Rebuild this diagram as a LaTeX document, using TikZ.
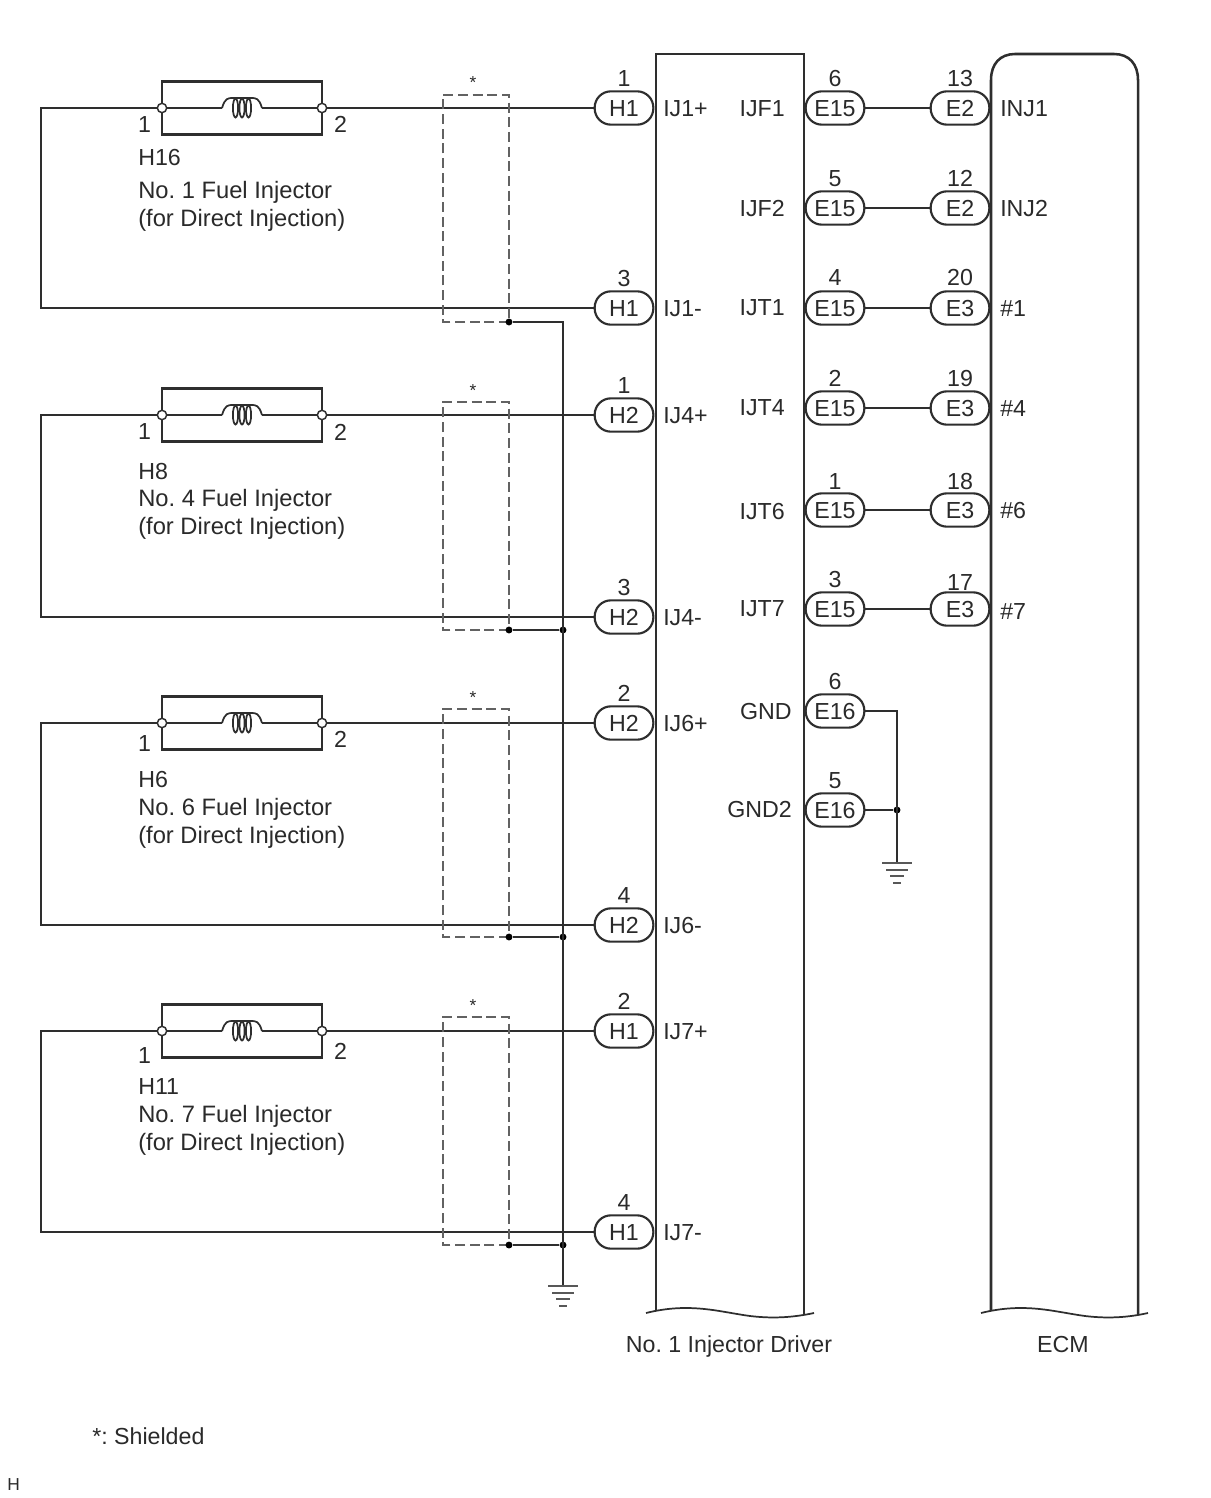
\documentclass[tikz,border=0pt]{standalone}
\usepackage{fontspec}
\setmainfont{Liberation Sans}
\usetikzlibrary{calc}
\definecolor{ink}{HTML}{2E2E2E}
\definecolor{txtc}{HTML}{2A2A2A}
\frenchspacing
\tikzset{
  wire/.style={draw=ink,line width=1.5pt,line join=miter},
  thinw/.style={draw=ink,line width=1.3pt},
  shield/.style={draw=ink!75,line width=1.2pt,dash pattern=on 7.5pt off 3.5pt},
  lab/.style={inner sep=0pt,text=txtc,font=\fontsize{17.4}{20}\selectfont,text height=12.5pt,text depth=0pt},
  labl/.style={lab,anchor=west},
  labr/.style={lab,anchor=east},
  labw/.style={labl,font=\fontsize{17.8}{20}\selectfont},
  pillnode/.style={lab,draw=ink,fill=white,line width=1.6pt,rounded corners=12.2pt,minimum width=44pt,minimum height=25pt,anchor=center},
  pinc/.style={circle,draw=ink,fill=white,line width=1.1pt,minimum size=7pt,inner sep=0pt},
  jdot/.style={circle,fill=black,minimum size=5.2pt,inner sep=0pt},
  body/.style={draw=ink,line width=1.9pt},
  gbar/.style={draw=ink!80,line width=1.5pt},
}
% pill: name, x, y, text, pin number, y of pin number
\newcommand{\pillp}[6]{%
  \node[pillnode] (#1) at (#2,#3) {#4};
  \node[lab] (#1n) at (#2,#6) {#5};
}
% injector block
\newcommand{\injector}[9]{%
  \node[draw=ink,line width=2.1pt,minimum width=120pt,minimum height=40pt,inner sep=0pt] (rect#1) at (242,#2) {};
  \node[pinc] (a#1) at (162,#2) {};
  \node[pinc] (b#1) at (322,#2) {};
  \coordinate (ca#1) at (222,#2);
  \coordinate (cb#1) at (262,#2);
  \draw[wire] (a#1) -- (ca#1);
  \draw[wire] (cb#1) -- (b#1);
  \draw[thinw] (ca#1) .. controls ($(ca#1)+(3,-10)$) and ($(ca#1)+(6,-10)$) .. ($(ca#1)+(11,-10)$)
     -- ($(ca#1)+(29,-10)$) .. controls ($(ca#1)+(34,-10)$) and ($(ca#1)+(37,-10)$) .. (cb#1);
  \foreach \ex in {13.5,20,26.5}{\draw[thinw] ($(ca#1)+(\ex,0)$) ellipse [x radius=2.6,y radius=9.5];}
  \coordinate (corn#1a) at (41,#2);
  \coordinate (corn#1b) at (41,#3);
  \draw[wire] (a#1) -- (corn#1a) -- (corn#1b) -- (#4);
  \draw[wire] (b#1) -- (#5);
  \node[lab] (pa#1) at (144.5,#6) {1};
  \node[lab] (pb#1) at (340.5,#7) {2};
  \node[labl] (id#1) at (138,#8) {#9};
}
\begin{document}
\begin{tikzpicture}[x=0.75pt,y=-0.75pt]
\useasboundingbox (0,0) rectangle (1210,1498);
\fill[white] (0,0) rectangle (1210,1498);

% unit bodies
\draw[body] (656,1310) -- (656,54) -- (804,54) -- (804,1315);
\draw[thinw] (646,1313) .. controls (690,1302) and (720,1312) .. (750,1316) .. controls (775,1319) and (795,1317) .. (814,1313);
\node[lab] (dname) at (729,1344) {No. 1 Injector Driver};

\draw[body] (991,1310) -- (991,80) .. controls (991,64) and (1000,54) .. (1015,54) -- (1114,54) .. controls (1129,54) and (1138,64) .. (1138,80) -- (1138,1315);
\draw[thinw] (981,1313) .. controls (1025,1302) and (1055,1312) .. (1085,1316) .. controls (1110,1319) and (1130,1317) .. (1148,1313);
\node[lab] (ename) at (1063,1344) {ECM};

% left pills
\pillp{h1}{624}{108}{H1}{1}{78}
\pillp{h2}{624}{308}{H1}{3}{278}
\pillp{h3}{624}{415}{H2}{1}{385}
\pillp{h4}{624}{617}{H2}{3}{587}
\pillp{h5}{624}{723}{H2}{2}{693}
\pillp{h6}{624}{925}{H2}{4}{895}
\pillp{h7}{624}{1031}{H1}{2}{1001}
\pillp{h8}{624}{1232}{H1}{4}{1202}

% injectors
\injector{1}{108}{308}{h2}{h1}{124}{124}{157}{H16}
\injector{2}{415}{617}{h4}{h3}{431}{432}{471}{H8}
\injector{3}{723}{925}{h6}{h5}{743}{739}{779}{H6}
\injector{4}{1031}{1232}{h8}{h7}{1055}{1051}{1086}{H11}

\node[labw] (t1a) at (138,190) {No. 1 Fuel Injector};
\node[labw] (t1b) at (138,218) {(for Direct Injection)};
\node[labw] (t2a) at (138,498) {No. 4 Fuel Injector};
\node[labw] (t2b) at (138,526) {(for Direct Injection)};
\node[labw] (t3a) at (138,807) {No. 6 Fuel Injector};
\node[labw] (t3b) at (138,835) {(for Direct Injection)};
\node[labw] (t4a) at (138,1114) {No. 7 Fuel Injector};
\node[labw] (t4b) at (138,1142) {(for Direct Injection)};

% shields
\foreach \i/\t/\b in {1/95/322,2/402/630,3/709/937,4/1017/1245}{
  \draw[shield] (509,\b) -- (443,\b) -- (443,\t) -- (509,\t) -- cycle;
  \node[lab,text height=6pt,font=\fontsize{13}{14}\selectfont] (star\i) at (473,\t-10) {*};
  \node[jdot] (sd\i) at (509,\b) {};
}

% shield drains and ground
\node[jdot] (j2) at (563,630) {};
\node[jdot] (j3) at (563,937) {};
\node[jdot] (j4) at (563,1245) {};
\coordinate (jtop) at (563,322);
\coordinate (gnd1) at (563,1286);
\draw[thinw] (sd1) -- (jtop) -- (gnd1);
\draw[thinw] (sd2) -- (j2);
\draw[thinw] (sd3) -- (j3);
\draw[thinw] (sd4) -- (j4);
\foreach \dy/\w in {0/15,6.5/11,13/7,19.5/4}{\draw[gbar] ($(gnd1)+(-\w,\dy)$) -- ($(gnd1)+(\w,\dy)$);}

% driver left-side pin names
\node[labl] (ij1) at (663,108) {IJ1+};
\node[labl] (ij2) at (663,308) {IJ1-};
\node[labl] (ij3) at (663,415) {IJ4+};
\node[labl] (ij4) at (663,617) {IJ4-};
\node[labl] (ij5) at (663,723) {IJ6+};
\node[labl] (ij6) at (663,925) {IJ6-};
\node[labl] (ij7) at (663,1031) {IJ7+};
\node[labl] (ij8) at (663,1232) {IJ7-};

% driver to ECM
\pillp{e1}{835}{108}{E15}{6}{78}
\pillp{f1}{960}{108}{E2}{13}{78}
\pillp{e2}{835}{208}{E15}{5}{178}
\pillp{f2}{960}{208}{E2}{12}{178}
\pillp{e3}{835}{308}{E15}{4}{277}
\pillp{f3}{960}{308}{E3}{20}{277}
\pillp{e4}{835}{408}{E15}{2}{378}
\pillp{f4}{960}{408}{E3}{19}{378}
\pillp{e5}{835}{510}{E15}{1}{481}
\pillp{f5}{960}{510}{E3}{18}{481}
\pillp{e6}{835}{609}{E15}{3}{579}
\pillp{f6}{960}{609}{E3}{17}{582}
\foreach \i in {1,...,6}{\draw[wire] (e\i) -- (f\i);}

\node[labr] (d1) at (785,108) {IJF1};
\node[labr] (d2) at (785,208) {IJF2};
\node[labr] (d3) at (785,307) {IJT1};
\node[labr] (d4) at (785,407) {IJT4};
\node[labr] (d5) at (785,511) {IJT6};
\node[labr] (d6) at (785,608) {IJT7};
\node[labr] (d7) at (792,711) {GND};
\node[labr] (d8) at (792,809) {GND2};

\node[labl] (c1) at (1000,108) {INJ1};
\node[labl] (c2) at (1000,208) {INJ2};
\node[labl] (c3) at (1000,308) {\#1};
\node[labl] (c4) at (1000,408) {\#4};
\node[labl] (c5) at (1000,510) {\#6};
\node[labl] (c6) at (1000,611) {\#7};

% ground of driver
\pillp{g1}{835}{711}{E16}{6}{681}
\pillp{g2}{835}{810}{E16}{5}{780}
\node[jdot] (gj) at (897,810) {};
\coordinate (gc) at (897,711);
\coordinate (gnd2) at (897,863);
\draw[wire] (g1) -- (gc) -- (gnd2);
\draw[wire] (g2) -- (gj);
\foreach \dy/\w in {0/15,6.5/11,13/7,19.5/4}{\draw[gbar] ($(gnd2)+(-\w,\dy)$) -- ($(gnd2)+(\w,\dy)$);}

% footnotes
\node[labl] (note) at (92,1436) {*: Shielded};
\node[labl,font=\fontsize{13}{14}\selectfont,text height=9.5pt] (corner) at (7,1484) {H};
\end{tikzpicture}
\end{document}
